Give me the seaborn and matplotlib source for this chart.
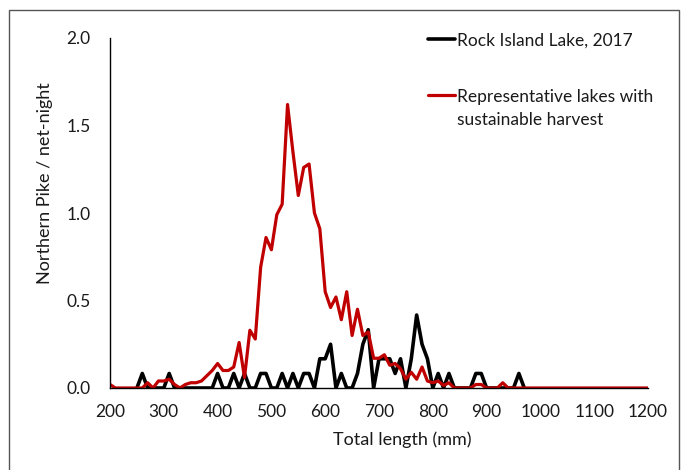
import numpy as np
import pandas as pd
import matplotlib
matplotlib.use("Agg")
import matplotlib.pyplot as plt
import seaborn as sns
from matplotlib.ticker import MultipleLocator
from matplotlib.patches import Rectangle

# ---- data (10-mm length bins) ----
red_lengths = np.arange(200, 1201, 10)
red_values = [
    0.02, 0.00, 0.00, 0.00, 0.00, 0.00, 0.00, 0.03, 0.00, 0.04,   # 200-290
    0.04, 0.05, 0.02, 0.00, 0.02, 0.03, 0.03, 0.04, 0.07, 0.10,   # 300-390
    0.14, 0.10, 0.10, 0.12, 0.26, 0.06, 0.33, 0.28, 0.69, 0.86,   # 400-490
    0.79, 0.99, 1.05, 1.62, 1.35, 1.10, 1.26, 1.28, 1.00, 0.91,   # 500-590
    0.55, 0.46, 0.52, 0.39, 0.55, 0.30, 0.45, 0.30, 0.32, 0.17,   # 600-690
    0.17, 0.19, 0.13, 0.14, 0.11, 0.05, 0.09, 0.05, 0.12, 0.04,   # 700-790
    0.03, 0.04, 0.015, 0.03, 0.00, 0.00, 0.00, 0.00, 0.02, 0.02,  # 800-890
    0.00, 0.00, 0.00, 0.03, 0.00, 0.00, 0.00, 0.00, 0.00, 0.00,   # 900-990
    0.00, 0.00, 0.00, 0.00, 0.00, 0.00, 0.00, 0.00, 0.00, 0.00,   # 1000-1090
    0.00, 0.00, 0.00, 0.00, 0.00, 0.00, 0.00, 0.00, 0.00, 0.00,   # 1100-1190
    0.00,                                                         # 1200
]
black_lengths = np.arange(250, 971, 10)
black_values = [
    0.000, 0.083, 0.000, 0.000, 0.000, 0.000, 0.083, 0.000, 0.000, 0.000,  # 250-340
    0.000, 0.000, 0.000, 0.000, 0.000, 0.083, 0.000, 0.000, 0.083, 0.000,  # 350-440
    0.083, 0.000, 0.000, 0.083, 0.083, 0.000, 0.000, 0.083, 0.000, 0.083,  # 450-540
    0.000, 0.083, 0.083, 0.000, 0.167, 0.167, 0.250, 0.000, 0.083, 0.000,  # 550-640
    0.000, 0.083, 0.250, 0.333, 0.000, 0.167, 0.167, 0.167, 0.083, 0.167,  # 650-740
    0.000, 0.167, 0.417, 0.250, 0.167, 0.000, 0.083, 0.000, 0.083, 0.000,  # 750-840
    0.000, 0.000, 0.000, 0.083, 0.083, 0.000, 0.000, 0.000, 0.000, 0.000,  # 850-940
    0.000, 0.083, 0.000,                                                   # 950-970
]
black_label = "Rock Island Lake, 2017"
red_label = "Representative lakes with\nsustainable harvest"
x_ticks = list(range(200, 1201, 100))
y_ticks = [0.0, 0.5, 1.0, 1.5, 2.0]

df_black = pd.DataFrame({"length": black_lengths, "cpue": black_values})
df_red = pd.DataFrame({"length": red_lengths, "cpue": red_values})

sns.set_style("white")
plt.rcParams["font.family"] = ["Lato", "DejaVu Sans"]

fig = plt.figure(figsize=(6.85, 4.70), dpi=100)
ax = fig.add_axes([110 / 685, 1 - 388 / 470, 538 / 685, 350 / 470])

sns.lineplot(data=df_black, x="length", y="cpue", ax=ax, color="#000000",
             linewidth=2.6, label=black_label)
sns.lineplot(data=df_red, x="length", y="cpue", ax=ax, color="#C00000",
             linewidth=2.3, label=red_label)

ax.set_xlim(200, 1200)
ax.set_ylim(0, 2.0)
ax.set_xticks(x_ticks)
ax.xaxis.set_minor_locator(MultipleLocator(50))
ax.set_yticks(y_ticks)
ax.set_yticklabels([f"{v:.1f}" for v in y_ticks])

for side in ("top", "right"):
    ax.spines[side].set_visible(False)
for side in ("left", "bottom"):
    ax.spines[side].set_color("#000000")
    ax.spines[side].set_linewidth(1.0)

ax.tick_params(axis="both", which="both", direction="out", length=4,
               width=1.0, color="#000000", labelsize=12.5, labelcolor="#1a1a1a")
ax.tick_params(axis="x", which="both", pad=7.5)
ax.tick_params(axis="y", pad=10)

ax.set_xlabel("Total length (mm)", fontsize=13, color="#1a1a1a")
ax.set_ylabel("Northern Pike / net-night", fontsize=13, color="#1a1a1a")
ax.xaxis.set_label_coords(0.543, -0.123)
ax.yaxis.set_label_coords(-0.106, 0.585)

leg = ax.legend(loc="upper left", bbox_to_anchor=(0.578, 1.035), frameon=False,
                fontsize=12.5, handlelength=1.55, handletextpad=0.12,
                labelspacing=2.3, borderaxespad=0)
for t in leg.get_texts():
    t.set_color("#1a1a1a")
    t.set_linespacing(1.6)
# align each handle with the first line of its label
for col in leg._legend_handle_box.get_children():
    for row in col.get_children():
        row.align = "top"

fig.patches.append(Rectangle((9 / 685, -0.05), 670 / 685, 1 - 10 / 470 + 0.05,
                             transform=fig.transFigure, fill=False,
                             edgecolor="#555555", linewidth=1.0))

fig.savefig("out.png", dpi=100)
